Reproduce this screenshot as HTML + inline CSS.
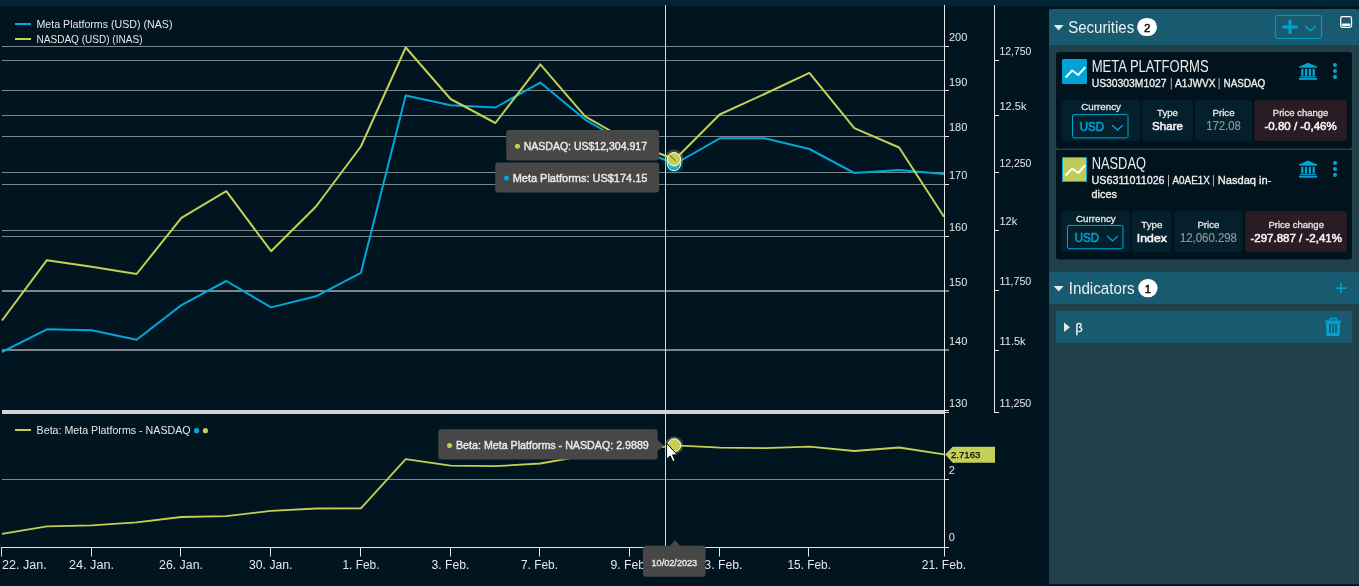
<!DOCTYPE html>
<html><head><meta charset="utf-8"><title>Chart</title>
<style>html,body{margin:0;padding:0;background:#011520;overflow:hidden}svg{display:block;font-family:"Liberation Sans", sans-serif;will-change:transform}</style>
</head><body>
<svg width="1359" height="586" viewBox="0 0 1359 586">
<rect x="0" y="0" width="1359" height="586" fill="#011520"/>
<rect x="0" y="0" width="1359" height="6" fill="#012536"/>
<line x1="2" y1="46.5" x2="944" y2="46.5" stroke="#7d868b" stroke-width="1"/>
<line x1="2" y1="90.5" x2="944" y2="90.5" stroke="#7d868b" stroke-width="1"/>
<line x1="2" y1="136.5" x2="944" y2="136.5" stroke="#7d868b" stroke-width="1"/>
<line x1="2" y1="184.5" x2="944" y2="184.5" stroke="#7d868b" stroke-width="1"/>
<line x1="2" y1="236.5" x2="944" y2="236.5" stroke="#7d868b" stroke-width="1"/>
<line x1="2" y1="60.5" x2="944" y2="60.5" stroke="#7d868b" stroke-width="1"/>
<line x1="2" y1="115.5" x2="944" y2="115.5" stroke="#7d868b" stroke-width="1"/>
<line x1="2" y1="172.5" x2="944" y2="172.5" stroke="#7d868b" stroke-width="1"/>
<line x1="2" y1="230.5" x2="944" y2="230.5" stroke="#7d868b" stroke-width="1"/>
<rect x="2" y="290" width="942" height="2" fill="#7d868b"/>
<rect x="2" y="349" width="942" height="2" fill="#7d868b"/>
<line x1="944.5" y1="5" x2="944.5" y2="556" stroke="#e6e6e6" stroke-width="1"/>
<line x1="994.5" y1="5" x2="994.5" y2="413" stroke="#e6e6e6" stroke-width="1"/>
<line x1="994" y1="412.5" x2="999" y2="412.5" stroke="#e6e6e6" stroke-width="1"/>
<line x1="944" y1="46.5" x2="949" y2="46.5" stroke="#e6e6e6" stroke-width="1"/>
<line x1="944" y1="90.5" x2="949" y2="90.5" stroke="#e6e6e6" stroke-width="1"/>
<line x1="944" y1="136.5" x2="949" y2="136.5" stroke="#e6e6e6" stroke-width="1"/>
<line x1="944" y1="184.5" x2="949" y2="184.5" stroke="#e6e6e6" stroke-width="1"/>
<line x1="944" y1="236.5" x2="949" y2="236.5" stroke="#e6e6e6" stroke-width="1"/>
<line x1="944" y1="291" x2="949" y2="291" stroke="#e6e6e6" stroke-width="1"/>
<line x1="944" y1="350" x2="949" y2="350" stroke="#e6e6e6" stroke-width="1"/>
<line x1="944" y1="410.5" x2="949" y2="410.5" stroke="#e6e6e6" stroke-width="1"/>
<line x1="944" y1="412.5" x2="949" y2="412.5" stroke="#e6e6e6" stroke-width="1"/>
<line x1="994" y1="60.5" x2="999" y2="60.5" stroke="#e6e6e6" stroke-width="1"/>
<line x1="994" y1="115.5" x2="999" y2="115.5" stroke="#e6e6e6" stroke-width="1"/>
<line x1="994" y1="172.5" x2="999" y2="172.5" stroke="#e6e6e6" stroke-width="1"/>
<line x1="994" y1="230.5" x2="999" y2="230.5" stroke="#e6e6e6" stroke-width="1"/>
<line x1="994" y1="290.5" x2="999" y2="290.5" stroke="#e6e6e6" stroke-width="1"/>
<line x1="994" y1="350.5" x2="999" y2="350.5" stroke="#e6e6e6" stroke-width="1"/>
<text x="949" y="41" font-size="11" fill="#e6e6e6" text-anchor="start">200</text>
<text x="949" y="85.5" font-size="11" fill="#e6e6e6" text-anchor="start">190</text>
<text x="949" y="131.3" font-size="11" fill="#e6e6e6" text-anchor="start">180</text>
<text x="949" y="179.3" font-size="11" fill="#e6e6e6" text-anchor="start">170</text>
<text x="949" y="231" font-size="11" fill="#e6e6e6" text-anchor="start">160</text>
<text x="949" y="286.2" font-size="11" fill="#e6e6e6" text-anchor="start">150</text>
<text x="949" y="344.7" font-size="11" fill="#e6e6e6" text-anchor="start">140</text>
<text x="949" y="406.5" font-size="11" fill="#e6e6e6" text-anchor="start">130</text>
<text x="999.5" y="55.3" font-size="11" fill="#e6e6e6" textLength="31.8" lengthAdjust="spacingAndGlyphs" text-anchor="start">12,750</text>
<text x="999.5" y="110.4" font-size="11" fill="#e6e6e6" text-anchor="start">12.5k</text>
<text x="999.5" y="167.4" font-size="11" fill="#e6e6e6" textLength="31.8" lengthAdjust="spacingAndGlyphs" text-anchor="start">12,250</text>
<text x="999.5" y="225.4" font-size="11" fill="#e6e6e6" text-anchor="start">12k</text>
<text x="999.5" y="285.4" font-size="11" fill="#e6e6e6" textLength="31.8" lengthAdjust="spacingAndGlyphs" text-anchor="start">11,750</text>
<text x="999.5" y="345.2" font-size="11" fill="#e6e6e6" text-anchor="start">11.5k</text>
<text x="999.5" y="407" font-size="11" fill="#e6e6e6" textLength="31.8" lengthAdjust="spacingAndGlyphs" text-anchor="start">11,250</text>
<polyline points="2.0,352.0 46.9,329.3 91.7,330.3 136.6,339.7 181.4,305.1 226.3,281.0 271.1,307.4 316.0,296.3 360.9,272.8 405.7,95.5 450.6,105.2 495.4,107.5 540.3,82.6 585.1,119.6 630.0,145.5 674.9,164.0 719.7,138.3 764.6,138.3 809.4,149.0 854.3,173.0 899.1,170.0 944.0,174.0" fill="none" stroke="#03a6d8" stroke-width="2" stroke-linejoin="round"/>
<polyline points="2.0,320.5 46.9,260.2 91.7,266.8 136.6,274.0 181.4,217.8 226.3,191.2 271.1,251.2 316.0,206.5 360.9,146.5 405.7,47.5 450.6,99.0 495.4,123.0 540.3,64.3 585.1,116.3 630.0,142.0 674.9,159.5 719.7,114.5 764.6,94.0 809.4,72.9 854.3,128.2 899.1,147.5 944.0,216.7" fill="none" stroke="#c3cf55" stroke-width="2" stroke-linejoin="round"/>
<line x1="15" y1="24" x2="31" y2="24" stroke="#03a6d8" stroke-width="2"/>
<text x="36.5" y="27.8" font-size="11" fill="#e6e6e6" textLength="136" lengthAdjust="spacingAndGlyphs" text-anchor="start">Meta Platforms (USD) (NAS)</text>
<line x1="15" y1="39" x2="31" y2="39" stroke="#c3cf55" stroke-width="2"/>
<text x="36.5" y="42.5" font-size="11" fill="#e6e6e6" textLength="106" lengthAdjust="spacingAndGlyphs" text-anchor="start">NASDAQ (USD) (INAS)</text>
<rect x="2" y="410" width="942" height="4" fill="#d4d4d4"/>
<line x1="2" y1="479.5" x2="944" y2="479.5" stroke="#7d868b" stroke-width="1"/>
<line x1="1" y1="547.5" x2="949" y2="547.5" stroke="#e6e6e6" stroke-width="1"/>
<line x1="944" y1="479.5" x2="949" y2="479.5" stroke="#e6e6e6" stroke-width="1"/>
<text x="948.8" y="473.7" font-size="11" fill="#e6e6e6" text-anchor="start">2</text>
<text x="948.8" y="541.4" font-size="11" fill="#e6e6e6" text-anchor="start">0</text>
<polyline points="2.0,533.9 46.9,526.4 91.7,525.4 136.6,522.3 181.4,517.0 226.3,516.2 271.1,510.9 316.0,508.5 360.9,508.3 405.7,459.1 450.6,465.6 495.4,466.2 540.3,463.5 585.1,455.6 630.0,451.0 674.9,445.3 719.7,447.6 764.6,448.2 809.4,446.6 854.3,451.0 899.1,447.5 944.0,454.4" fill="none" stroke="#c3cf55" stroke-width="1.8" stroke-linejoin="round"/>
<line x1="15" y1="430" x2="31" y2="430" stroke="#c3cf55" stroke-width="2"/>
<text x="36.6" y="434" font-size="11" fill="#e6e6e6" textLength="154" lengthAdjust="spacingAndGlyphs" text-anchor="start">Beta: Meta Platforms - NASDAQ</text>
<circle cx="196.6" cy="430.7" r="2.6" fill="#03a6d8"/>
<circle cx="205.4" cy="430.7" r="2.6" fill="#c3cf55"/>
<path d="M945.2,454.5 L952.7,446.8 L995,446.8 L995,462.8 L952.7,462.8 Z" fill="#c3cf55"/>
<text x="951" y="457.8" font-size="9.4" fill="#0a0a0a" textLength="29.3" lengthAdjust="spacingAndGlyphs" text-anchor="start" stroke="#0a0a0a" stroke-width="0.25">2.7163</text>
<line x1="1.5" y1="547" x2="1.5" y2="556.5" stroke="#e6e6e6" stroke-width="1"/>
<line x1="91.5" y1="547" x2="91.5" y2="556.5" stroke="#e6e6e6" stroke-width="1"/>
<line x1="180.5" y1="547" x2="180.5" y2="556.5" stroke="#e6e6e6" stroke-width="1"/>
<line x1="270.5" y1="547" x2="270.5" y2="556.5" stroke="#e6e6e6" stroke-width="1"/>
<line x1="360.5" y1="547" x2="360.5" y2="556.5" stroke="#e6e6e6" stroke-width="1"/>
<line x1="450.5" y1="547" x2="450.5" y2="556.5" stroke="#e6e6e6" stroke-width="1"/>
<line x1="539.5" y1="547" x2="539.5" y2="556.5" stroke="#e6e6e6" stroke-width="1"/>
<line x1="629.5" y1="547" x2="629.5" y2="556.5" stroke="#e6e6e6" stroke-width="1"/>
<line x1="719.5" y1="547" x2="719.5" y2="556.5" stroke="#e6e6e6" stroke-width="1"/>
<line x1="808.5" y1="547" x2="808.5" y2="556.5" stroke="#e6e6e6" stroke-width="1"/>
<line x1="944.5" y1="547" x2="944.5" y2="556.5" stroke="#e6e6e6" stroke-width="1"/>
<text x="2" y="568.7" font-size="12" fill="#e6e6e6" textLength="44.7" lengthAdjust="spacingAndGlyphs" text-anchor="start">22. Jan.</text>
<text x="69" y="568.7" font-size="12" fill="#e6e6e6" textLength="45" lengthAdjust="spacingAndGlyphs" text-anchor="start">24. Jan.</text>
<text x="159" y="568.7" font-size="12" fill="#e6e6e6" textLength="44" lengthAdjust="spacingAndGlyphs" text-anchor="start">26. Jan.</text>
<text x="249" y="568.7" font-size="12" fill="#e6e6e6" textLength="43.5" lengthAdjust="spacingAndGlyphs" text-anchor="start">30. Jan.</text>
<text x="342.5" y="568.7" font-size="12" fill="#e6e6e6" textLength="37" lengthAdjust="spacingAndGlyphs" text-anchor="start">1. Feb.</text>
<text x="431.5" y="568.7" font-size="12" fill="#e6e6e6" textLength="38" lengthAdjust="spacingAndGlyphs" text-anchor="start">3. Feb.</text>
<text x="521" y="568.7" font-size="12" fill="#e6e6e6" textLength="37" lengthAdjust="spacingAndGlyphs" text-anchor="start">7. Feb.</text>
<text x="610.5" y="568.7" font-size="12" fill="#e6e6e6" textLength="38" lengthAdjust="spacingAndGlyphs" text-anchor="start">9. Feb.</text>
<text x="697.5" y="568.7" font-size="12" fill="#e6e6e6" textLength="45" lengthAdjust="spacingAndGlyphs" text-anchor="start">13. Feb.</text>
<text x="787.5" y="568.7" font-size="12" fill="#e6e6e6" textLength="43.5" lengthAdjust="spacingAndGlyphs" text-anchor="start">15. Feb.</text>
<text x="921.7" y="568.7" font-size="12" fill="#e6e6e6" textLength="44.3" lengthAdjust="spacingAndGlyphs" text-anchor="start">21. Feb.</text>
<line x1="665.5" y1="5" x2="665.5" y2="547" stroke="#d8d8d8" stroke-width="1"/>
<circle cx="674" cy="164.1" r="9.5" fill="#03a6d8" fill-opacity="0.3"/>
<circle cx="674" cy="164.1" r="6.6" fill="#03a6d8" stroke="#fff" stroke-width="1"/>
<circle cx="674" cy="159.1" r="9.5" fill="#c3cf55" fill-opacity="0.3"/>
<circle cx="674" cy="159.1" r="6.6" fill="#c3cf55" stroke="#fff" stroke-width="1"/>
<line x1="669.6" y1="155.3" x2="675.6" y2="160.7" stroke="#28300e" stroke-width="1" stroke-opacity="0.75"/>
<circle cx="674.2" cy="445.3" r="9" fill="#c3cf55" fill-opacity="0.3"/>
<circle cx="674.2" cy="445.3" r="6.5" fill="#c3cf55" stroke="#fff" stroke-width="1"/>
<rect x="506.2" y="130" width="153" height="30.5" fill="#474747" rx="3"/>
<circle cx="517.5" cy="146.2" r="2.5" fill="#c3cf55"/>
<text x="523.7" y="150" font-size="11.4" fill="#e8e8e8" textLength="123.3" lengthAdjust="spacingAndGlyphs" text-anchor="start" stroke="#e8e8e8" stroke-width="0.45">NASDAQ: US$12,304.917</text>
<rect x="495.2" y="162.4" width="164" height="30.1" fill="#474747" rx="3"/>
<circle cx="506.5" cy="178" r="2.5" fill="#03a6d8"/>
<text x="512.7" y="181.8" font-size="11.4" fill="#e8e8e8" textLength="134.7" lengthAdjust="spacingAndGlyphs" text-anchor="start" stroke="#e8e8e8" stroke-width="0.45">Meta Platforms: US$174.15</text>
<path d="M441.3,429.3 L654.6,429.3 Q657.6,429.3 657.6,432.3 L657.6,440 L664.2,445.7 L657.6,450.7 L657.6,456.6 Q657.6,459.6 654.6,459.6 L441.3,459.6 Q438.3,459.6 438.3,456.6 L438.3,432.3 Q438.3,429.3 441.3,429.3 Z" fill="#474747"/>
<circle cx="449.5" cy="445.6" r="2.5" fill="#c3cf55"/>
<text x="456" y="448.8" font-size="11.4" fill="#e8e8e8" textLength="192.8" lengthAdjust="spacingAndGlyphs" text-anchor="start" stroke="#e8e8e8" stroke-width="0.45">Beta: Meta Platforms - NASDAQ: 2.9889</text>
<path d="M646,545.8 L670,545.8 L675,540 L680,545.8 L702.5,545.8 Q705.5,545.8 705.5,548.8 L705.5,573.8 Q705.5,576.8 702.5,576.8 L646,576.8 Q643,576.8 643,573.8 L643,548.8 Q643,545.8 646,545.8 Z" fill="#474747"/>
<text x="651.5" y="566.1" font-size="8.6" fill="#e8e8e8" textLength="45.7" lengthAdjust="spacingAndGlyphs" text-anchor="start" stroke="#e8e8e8" stroke-width="0.35">10/02/2023</text>
<path d="M666.6,443.2 L666.6,459.3 L670.1,455.9 L672.8,461.6 L675.2,460.6 L672.6,454.9 L677.4,454.9 Z" fill="#fff" stroke="#000" stroke-width="1" stroke-linejoin="round"/>
<rect x="1049" y="9" width="310" height="575.2" fill="#22404a" rx="2"/>
<rect x="1049" y="9" width="310" height="36" fill="#185a70" rx="2"/>
<rect x="1049" y="20" width="310" height="25" fill="#185a70"/>
<path d="M1053.7,25 L1063.7,25 L1058.7,30.5 Z" fill="#e8e8e8"/>
<text x="1068.2" y="32.8" font-size="16" fill="#eeeeee" textLength="66" lengthAdjust="spacingAndGlyphs" text-anchor="start">Securities</text>
<rect x="1137.1" y="17.9" width="19.9" height="18.2" fill="#ffffff" rx="9.1"/>
<text x="1147.2" y="31.9" font-size="11.5" fill="#000" text-anchor="middle" stroke="#000" stroke-width="0.4">2</text>
<rect x="1275.6" y="15.4" width="46" height="23" fill="none" rx="2" stroke="#00a3d2" stroke-width="1"/>
<line x1="1283.5" y1="26.9" x2="1296.5" y2="26.9" stroke="#00a3d2" stroke-width="3" stroke-linecap="round"/>
<line x1="1290" y1="19.8" x2="1290" y2="33.9" stroke="#00a3d2" stroke-width="3"/>
<polyline points="1305.2,26 1310.5,30.8 1315.8,26" fill="none" stroke="#00a3d2" stroke-width="1.5"/>
<rect x="1340.7" y="16.6" width="10.8" height="10.8" fill="none" rx="1.8" stroke="#fff" stroke-width="1.3"/>
<line x1="1343" y1="24.7" x2="1349.2" y2="24.7" stroke="#fff" stroke-width="2.4" stroke-linecap="round"/>
<rect x="1056" y="52" width="296" height="96.6" fill="#01141e" rx="3"/>
<rect x="1062" y="59" width="25" height="25" fill="#00a3d2" rx="1.5"/>
<polyline points="1065.6,77.5 1072.1,70.5 1078.3,75 1085.3,67.1" fill="none" stroke="#fff" stroke-width="2"/>
<text x="1091.7" y="71.9" font-size="16.2" fill="#ececec" textLength="117" lengthAdjust="spacingAndGlyphs" text-anchor="start">META PLATFORMS</text>
<text x="1091.7" y="87" font-size="11.3" fill="#eeeeee" textLength="74.8" lengthAdjust="spacingAndGlyphs" text-anchor="start" stroke="#eeeeee" stroke-width="0.35">US30303M1027</text>
<rect x="1170.8" y="78" width="1" height="11.4" fill="#b4b4b4"/>
<text x="1175" y="87" font-size="11.3" fill="#eeeeee" textLength="40.5" lengthAdjust="spacingAndGlyphs" text-anchor="start" stroke="#eeeeee" stroke-width="0.35">A1JWVX</text>
<rect x="1218.6" y="78" width="1" height="11.4" fill="#b4b4b4"/>
<text x="1223.6" y="87" font-size="11.3" fill="#eeeeee" textLength="41.7" lengthAdjust="spacingAndGlyphs" text-anchor="start" stroke="#eeeeee" stroke-width="0.35">NASDAQ</text>
<path d="M1299,66.7 L1308.05,62.7 L1317.1,66.7 L1317.1,67.8 L1299,67.8 Z" fill="#00a3d2"/>
<rect x="1301.1499999999999" y="68.8" width="2.3" height="7" fill="#00a3d2"/>
<rect x="1304.85" y="68.8" width="2.3" height="7" fill="#00a3d2"/>
<rect x="1308.75" y="68.8" width="2.3" height="7" fill="#00a3d2"/>
<rect x="1312.55" y="68.8" width="2.3" height="7" fill="#00a3d2"/>
<rect x="1300" y="76.2" width="16" height="1" fill="#00a3d2"/>
<rect x="1299" y="77.8" width="18.1" height="2" fill="#00a3d2"/>
<circle cx="1335" cy="65.0" r="2.05" fill="#00a3d2"/>
<circle cx="1335" cy="70.95" r="2.05" fill="#00a3d2"/>
<circle cx="1335" cy="76.9" r="2.05" fill="#00a3d2"/>
<rect x="1062.2" y="100.2" width="77.8" height="40.7" fill="#03202c" rx="3"/>
<text x="1101.1000000000001" y="109.7" font-size="9.4" fill="#e6e6e6" textLength="39.7" lengthAdjust="spacingAndGlyphs" text-anchor="middle" stroke="#e6e6e6" stroke-width="0.3">Currency</text>
<rect x="1072.5" y="114.60000000000001" width="55.5" height="23.3" fill="none" rx="1.5" stroke="#00a3d2" stroke-width="1"/>
<text x="1079.7" y="130.8" font-size="12.6" fill="#00a3d2" textLength="24.3" lengthAdjust="spacingAndGlyphs" text-anchor="start" stroke="#00a3d2" stroke-width="0.55">USD</text>
<polyline points="1112.2,125.2 1117.5,130.1 1122.8,125.2" fill="none" stroke="#00a3d2" stroke-width="1.3"/>
<rect x="1142.2" y="100.2" width="50.6" height="40.7" fill="#03202c" rx="3"/>
<text x="1167.5" y="115.8" font-size="9.2" fill="#e6e6e6" textLength="21" lengthAdjust="spacingAndGlyphs" text-anchor="middle" stroke="#e6e6e6" stroke-width="0.3">Type</text>
<text x="1167.5" y="129.8" font-size="11.8" fill="#f4f4f4" textLength="30.8" lengthAdjust="spacingAndGlyphs" text-anchor="middle" stroke="#f4f4f4" stroke-width="0.55">Share</text>
<rect x="1195" y="100.2" width="57" height="40.7" fill="#03202c" rx="3"/>
<text x="1223.5" y="115.8" font-size="9.2" fill="#e6e6e6" textLength="22" lengthAdjust="spacingAndGlyphs" text-anchor="middle" stroke="#e6e6e6" stroke-width="0.3">Price</text>
<text x="1223.5" y="129.8" font-size="12" fill="#8a969b" textLength="34.5" lengthAdjust="spacingAndGlyphs" text-anchor="middle" stroke="#8a969b" stroke-width="0.2">172.08</text>
<rect x="1254.2" y="100.2" width="92.8" height="40.7" fill="#2a1c24" rx="3"/>
<text x="1300.6000000000001" y="115.8" font-size="9.2" fill="#e6e6e6" textLength="55.5" lengthAdjust="spacingAndGlyphs" text-anchor="middle" stroke="#e6e6e6" stroke-width="0.3">Price change</text>
<text x="1300.6000000000001" y="129.8" font-size="11.8" fill="#f4f4f4" textLength="72.2" lengthAdjust="spacingAndGlyphs" text-anchor="middle" stroke="#f4f4f4" stroke-width="0.55">-0.80 / -0,46%</text>
<rect x="1056" y="149" width="296" height="1" fill="#0e4a60"/>
<rect x="1056" y="150" width="296" height="109.6" fill="#01141e" rx="3"/>
<rect x="1056" y="150" width="296" height="6" fill="#01141e"/>
<rect x="1062.5" y="157.5" width="24" height="24" fill="#bfcb57" stroke="#00a3d2" stroke-width="1"/>
<polyline points="1065.6,175.5 1072.1,168.5 1078.3,173 1085.3,165.1" fill="none" stroke="#fff" stroke-width="2"/>
<text x="1091.7" y="168.8" font-size="16.2" fill="#ececec" textLength="54.3" lengthAdjust="spacingAndGlyphs" text-anchor="start">NASDAQ</text>
<text x="1091.5" y="183.8" font-size="11.3" fill="#eeeeee" textLength="73.1" lengthAdjust="spacingAndGlyphs" text-anchor="start" stroke="#eeeeee" stroke-width="0.35">US6311011026</text>
<rect x="1168" y="175" width="1" height="11.4" fill="#b4b4b4"/>
<text x="1172.5" y="183.8" font-size="11.3" fill="#eeeeee" textLength="37.3" lengthAdjust="spacingAndGlyphs" text-anchor="start" stroke="#eeeeee" stroke-width="0.35">A0AE1X</text>
<rect x="1212.9" y="175" width="1" height="11.4" fill="#b4b4b4"/>
<text x="1217.7" y="183.8" font-size="11.3" fill="#eeeeee" textLength="53.8" lengthAdjust="spacingAndGlyphs" text-anchor="start" stroke="#eeeeee" stroke-width="0.35">Nasdaq in-</text>
<text x="1091.5" y="197.5" font-size="11.3" fill="#eeeeee" textLength="25.4" lengthAdjust="spacingAndGlyphs" text-anchor="start" stroke="#eeeeee" stroke-width="0.35">dices</text>
<path d="M1299,164.6 L1308.05,160.6 L1317.1,164.6 L1317.1,165.7 L1299,165.7 Z" fill="#00a3d2"/>
<rect x="1301.1499999999999" y="166.7" width="2.3" height="7" fill="#00a3d2"/>
<rect x="1304.85" y="166.7" width="2.3" height="7" fill="#00a3d2"/>
<rect x="1308.75" y="166.7" width="2.3" height="7" fill="#00a3d2"/>
<rect x="1312.55" y="166.7" width="2.3" height="7" fill="#00a3d2"/>
<rect x="1300" y="174.1" width="16" height="1" fill="#00a3d2"/>
<rect x="1299" y="175.7" width="18.1" height="2" fill="#00a3d2"/>
<circle cx="1335" cy="163.0" r="2.05" fill="#00a3d2"/>
<circle cx="1335" cy="168.95" r="2.05" fill="#00a3d2"/>
<circle cx="1335" cy="174.9" r="2.05" fill="#00a3d2"/>
<rect x="1062" y="211" width="67.8" height="40.7" fill="#03202c" rx="3"/>
<text x="1095.9" y="221.8" font-size="9.4" fill="#e6e6e6" textLength="39.7" lengthAdjust="spacingAndGlyphs" text-anchor="middle" stroke="#e6e6e6" stroke-width="0.3">Currency</text>
<rect x="1067.5" y="225.4" width="55.5" height="23.3" fill="none" rx="1.5" stroke="#00a3d2" stroke-width="1"/>
<text x="1074.7" y="242.25" font-size="12.6" fill="#00a3d2" textLength="24.3" lengthAdjust="spacingAndGlyphs" text-anchor="start" stroke="#00a3d2" stroke-width="0.55">USD</text>
<polyline points="1107.2,236 1112.5,240.9 1117.8,236" fill="none" stroke="#00a3d2" stroke-width="1.3"/>
<rect x="1132" y="211" width="39.7" height="40.7" fill="#03202c" rx="3"/>
<text x="1151.85" y="227.9" font-size="9.2" fill="#e6e6e6" textLength="21" lengthAdjust="spacingAndGlyphs" text-anchor="middle" stroke="#e6e6e6" stroke-width="0.3">Type</text>
<text x="1151.85" y="241.9" font-size="11.8" fill="#f4f4f4" textLength="30" lengthAdjust="spacingAndGlyphs" text-anchor="middle" stroke="#f4f4f4" stroke-width="0.55">Index</text>
<rect x="1174.2" y="211" width="68.4" height="40.7" fill="#03202c" rx="3"/>
<text x="1208.4" y="227.9" font-size="9.2" fill="#e6e6e6" textLength="22" lengthAdjust="spacingAndGlyphs" text-anchor="middle" stroke="#e6e6e6" stroke-width="0.3">Price</text>
<text x="1208.4" y="241.9" font-size="12" fill="#8a969b" textLength="57" lengthAdjust="spacingAndGlyphs" text-anchor="middle" stroke="#8a969b" stroke-width="0.2">12,060.298</text>
<rect x="1245.4" y="211" width="101.6" height="40.7" fill="#2a1c24" rx="3"/>
<text x="1296.2" y="227.9" font-size="9.2" fill="#e6e6e6" textLength="55.5" lengthAdjust="spacingAndGlyphs" text-anchor="middle" stroke="#e6e6e6" stroke-width="0.3">Price change</text>
<text x="1296.2" y="241.9" font-size="11.8" fill="#f4f4f4" textLength="91.4" lengthAdjust="spacingAndGlyphs" text-anchor="middle" stroke="#f4f4f4" stroke-width="0.55">-297.887 / -2,41%</text>
<rect x="1049" y="272" width="310" height="32" fill="#185a70"/>
<path d="M1053.7,286 L1063.7,286 L1058.7,291.5 Z" fill="#e8e8e8"/>
<text x="1068.7" y="294" font-size="16" fill="#eeeeee" textLength="66" lengthAdjust="spacingAndGlyphs" text-anchor="start">Indicators</text>
<rect x="1138.2" y="279" width="19.4" height="18.2" fill="#ffffff" rx="9.1"/>
<text x="1147.9" y="292.6" font-size="11.5" fill="#000" text-anchor="middle" stroke="#000" stroke-width="0.4">1</text>
<line x1="1335.7" y1="288.1" x2="1346.4" y2="288.1" stroke="#00a3d2" stroke-width="1.5"/>
<line x1="1341" y1="282.8" x2="1341" y2="293.4" stroke="#00a3d2" stroke-width="1.5"/>
<rect x="1056" y="311" width="296" height="32" fill="#185a70"/>
<path d="M1064,322.5 L1070,327.25 L1064,332 Z" fill="#e8e8e8"/>
<text x="1075.3" y="331.6" font-size="13" fill="#eeeeee" text-anchor="start" stroke="#eeeeee" stroke-width="0.3">β</text>
<rect x="1325" y="320.6" width="16.1" height="1.8" fill="#00a3d2" rx="0.5"/>
<path d="M1329.7,320.8 L1330.5,318.6 L1336.2,318.6 L1337,320.8" fill="none" stroke="#00a3d2" stroke-width="1.5"/>
<path d="M1326,322.3 L1340,322.3 L1339.6,334.9 Q1339.5,335.9 1338.5,335.9 L1327.5,335.9 Q1326.5,335.9 1326.4,334.9 Z" fill="#00a3d2"/>
<rect x="1329.1" y="324.1" width="1.8" height="8.7" fill="#185a70"/>
<rect x="1332.2" y="324.1" width="1.8" height="8.7" fill="#185a70"/>
<rect x="1335.1" y="324.1" width="1.8" height="8.7" fill="#185a70"/>
</svg>
</body></html>
